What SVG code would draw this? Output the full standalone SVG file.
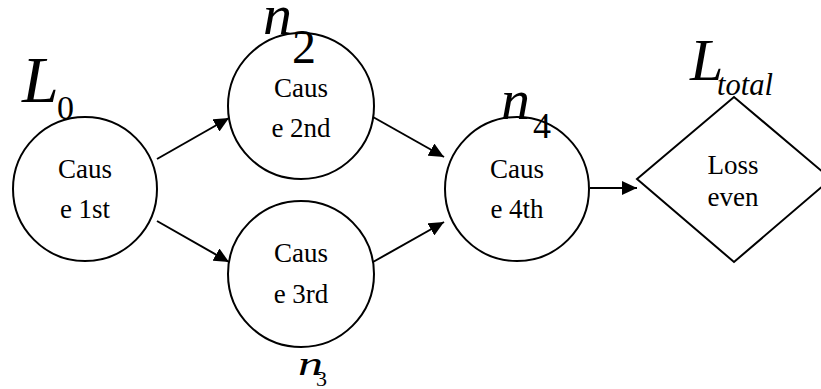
<svg xmlns="http://www.w3.org/2000/svg" width="821" height="389" viewBox="0 0 821 389">
<defs>
<style>
.node{fill:#fff;stroke:#000;stroke-width:2}
.t{font-family:"Liberation Serif","Times New Roman",serif;font-size:27px;fill:#000;text-anchor:middle}
.lab{font-family:"Liberation Serif","Times New Roman",serif;fill:#000}
.it{font-style:italic}
.edge{stroke:#000;stroke-width:2;fill:none;marker-end:url(#ah)}
</style>
<marker id="ah" markerUnits="userSpaceOnUse" markerWidth="15" markerHeight="14" refX="15" refY="7" orient="auto">
<path d="M0,0 L15,7 L0,14 Z" fill="#000"/>
</marker>
</defs>
<rect width="821" height="389" fill="#fff"/>
<g id="connectors">
<line class="edge" x1="157" y1="159" x2="229" y2="118"/>
<line class="edge" x1="157" y1="221" x2="229" y2="262"/>
<line class="edge" x1="373" y1="117" x2="444" y2="157"/>
<line class="edge" x1="373" y1="262" x2="444" y2="222"/>
<line class="edge" x1="590" y1="188" x2="637" y2="188"/>
</g>
<g id="node1">
<circle class="node" cx="85" cy="189" r="72"/>
<text class="t" x="85" y="178">Caus</text>
<text class="t" x="85" y="218">e 1st</text>
</g>
<g id="node2">
<circle class="node" cx="301" cy="106" r="73"/>
<text class="t" x="301" y="97">Caus</text>
<text class="t" x="301" y="137">e 2nd</text>
</g>
<g id="node3">
<circle class="node" cx="301" cy="274" r="73"/>
<text class="t" x="301" y="262">Caus</text>
<text class="t" x="301" y="303">e 3rd</text>
</g>
<g id="node4">
<circle class="node" cx="517" cy="189" r="72"/>
<text class="t" x="517" y="178">Caus</text>
<text class="t" x="517" y="218">e 4th</text>
</g>
<g id="node5">
<polygon class="node" points="637,179 734,97 831,179 734,262"/>
<text class="t" x="733" y="174">Loss</text>
<text class="t" x="733" y="206">even</text>
</g>
<g id="labels">
<text class="lab it" x="22" y="102" font-size="66">L</text>
<text class="lab" x="57" y="119" font-size="34">0</text>
<text class="lab it" x="263" y="34" font-size="58">n</text>
<text class="lab" x="292" y="63" font-size="48">2</text>
<text class="lab it" x="501" y="119" font-size="58">n</text>
<text class="lab" x="533" y="138" font-size="36">4</text>
<text class="lab it" x="690" y="80" font-size="60">L</text>
<text class="lab it" x="717" y="95" font-size="32" textLength="56" lengthAdjust="spacingAndGlyphs">total</text>
<text class="lab it" x="298" y="375" font-size="34" textLength="25" lengthAdjust="spacingAndGlyphs">n</text>
<text class="lab" x="316" y="386" font-size="22">3</text>
</g>
</svg>
